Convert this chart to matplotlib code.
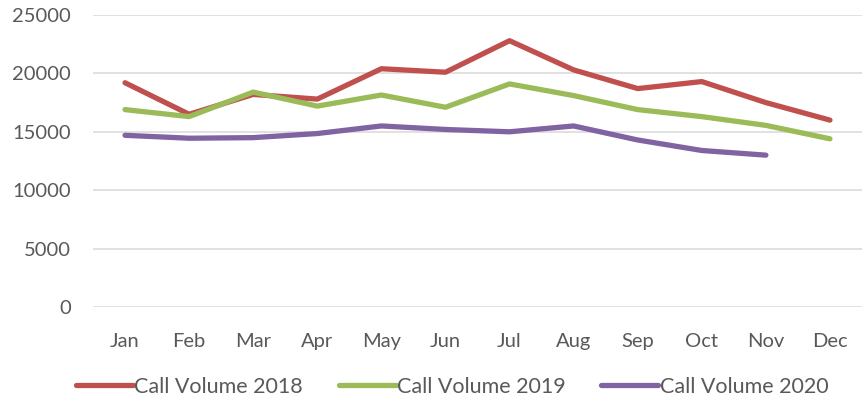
import matplotlib
matplotlib.use("Agg")
import matplotlib.pyplot as plt

months = ["Jan", "Feb", "Mar", "Apr", "May", "Jun", "Jul", "Aug", "Sep", "Oct", "Nov", "Dec"]
vol_2018 = [19200, 16500, 18200, 17800, 20400, 20100, 22800, 20300, 18700, 19300, 17500, 16000]
vol_2019 = [16900, 16300, 18400, 17200, 18150, 17100, 19100, 18100, 16900, 16300, 15550, 14400]
vol_2020 = [14700, 14450, 14500, 14850, 15500, 15200, 15000, 15500, 14300, 13400, 13000]
yticks = [0, 5000, 10000, 15000, 20000, 25000]

plt.rcParams['font.family'] = ['Lato', 'DejaVu Sans']
txt = '#595959'

fig = plt.figure(figsize=(8.64, 4.04), dpi=100)
ax = fig.add_axes([93/864, 1-307/404, (862-93)/864, (307-15)/404])

x = list(range(len(months)))
ax.plot(x, vol_2018, color='#C0504D', lw=3.8, solid_capstyle='round', solid_joinstyle='round', label='Call Volume 2018')
ax.plot(x, vol_2019, color='#9BBB59', lw=3.8, solid_capstyle='round', solid_joinstyle='round', label='Call Volume 2019')
ax.plot(x[:len(vol_2020)], vol_2020, color='#8064A2', lw=3.8, solid_capstyle='round', solid_joinstyle='round', label='Call Volume 2020')

ax.set_xlim(-0.5, 11.5)
ax.set_ylim(0, 25000)
ax.set_yticks(yticks)
ax.set_yticklabels([str(v) for v in yticks])
ax.set_xticks(x)
ax.set_xticklabels(months)
for s in ax.spines.values():
    s.set_visible(False)
ax.grid(axis='y', color='#D9D9D9', lw=1.1)
ax.set_axisbelow(True)
ax.tick_params(axis='both', length=0, labelsize=14.5, colors=txt)
ax.tick_params(axis='y', pad=16)
ax.tick_params(axis='x', pad=19)

leg = fig.legend(loc='center', bbox_to_anchor=(452/864, 1-387/404), ncol=3, frameon=False,
                 fontsize=15.5, handlelength=2.65, handletextpad=0.05, columnspacing=1.67,
                 labelcolor=txt)
fig.savefig('out.png', dpi=100)
